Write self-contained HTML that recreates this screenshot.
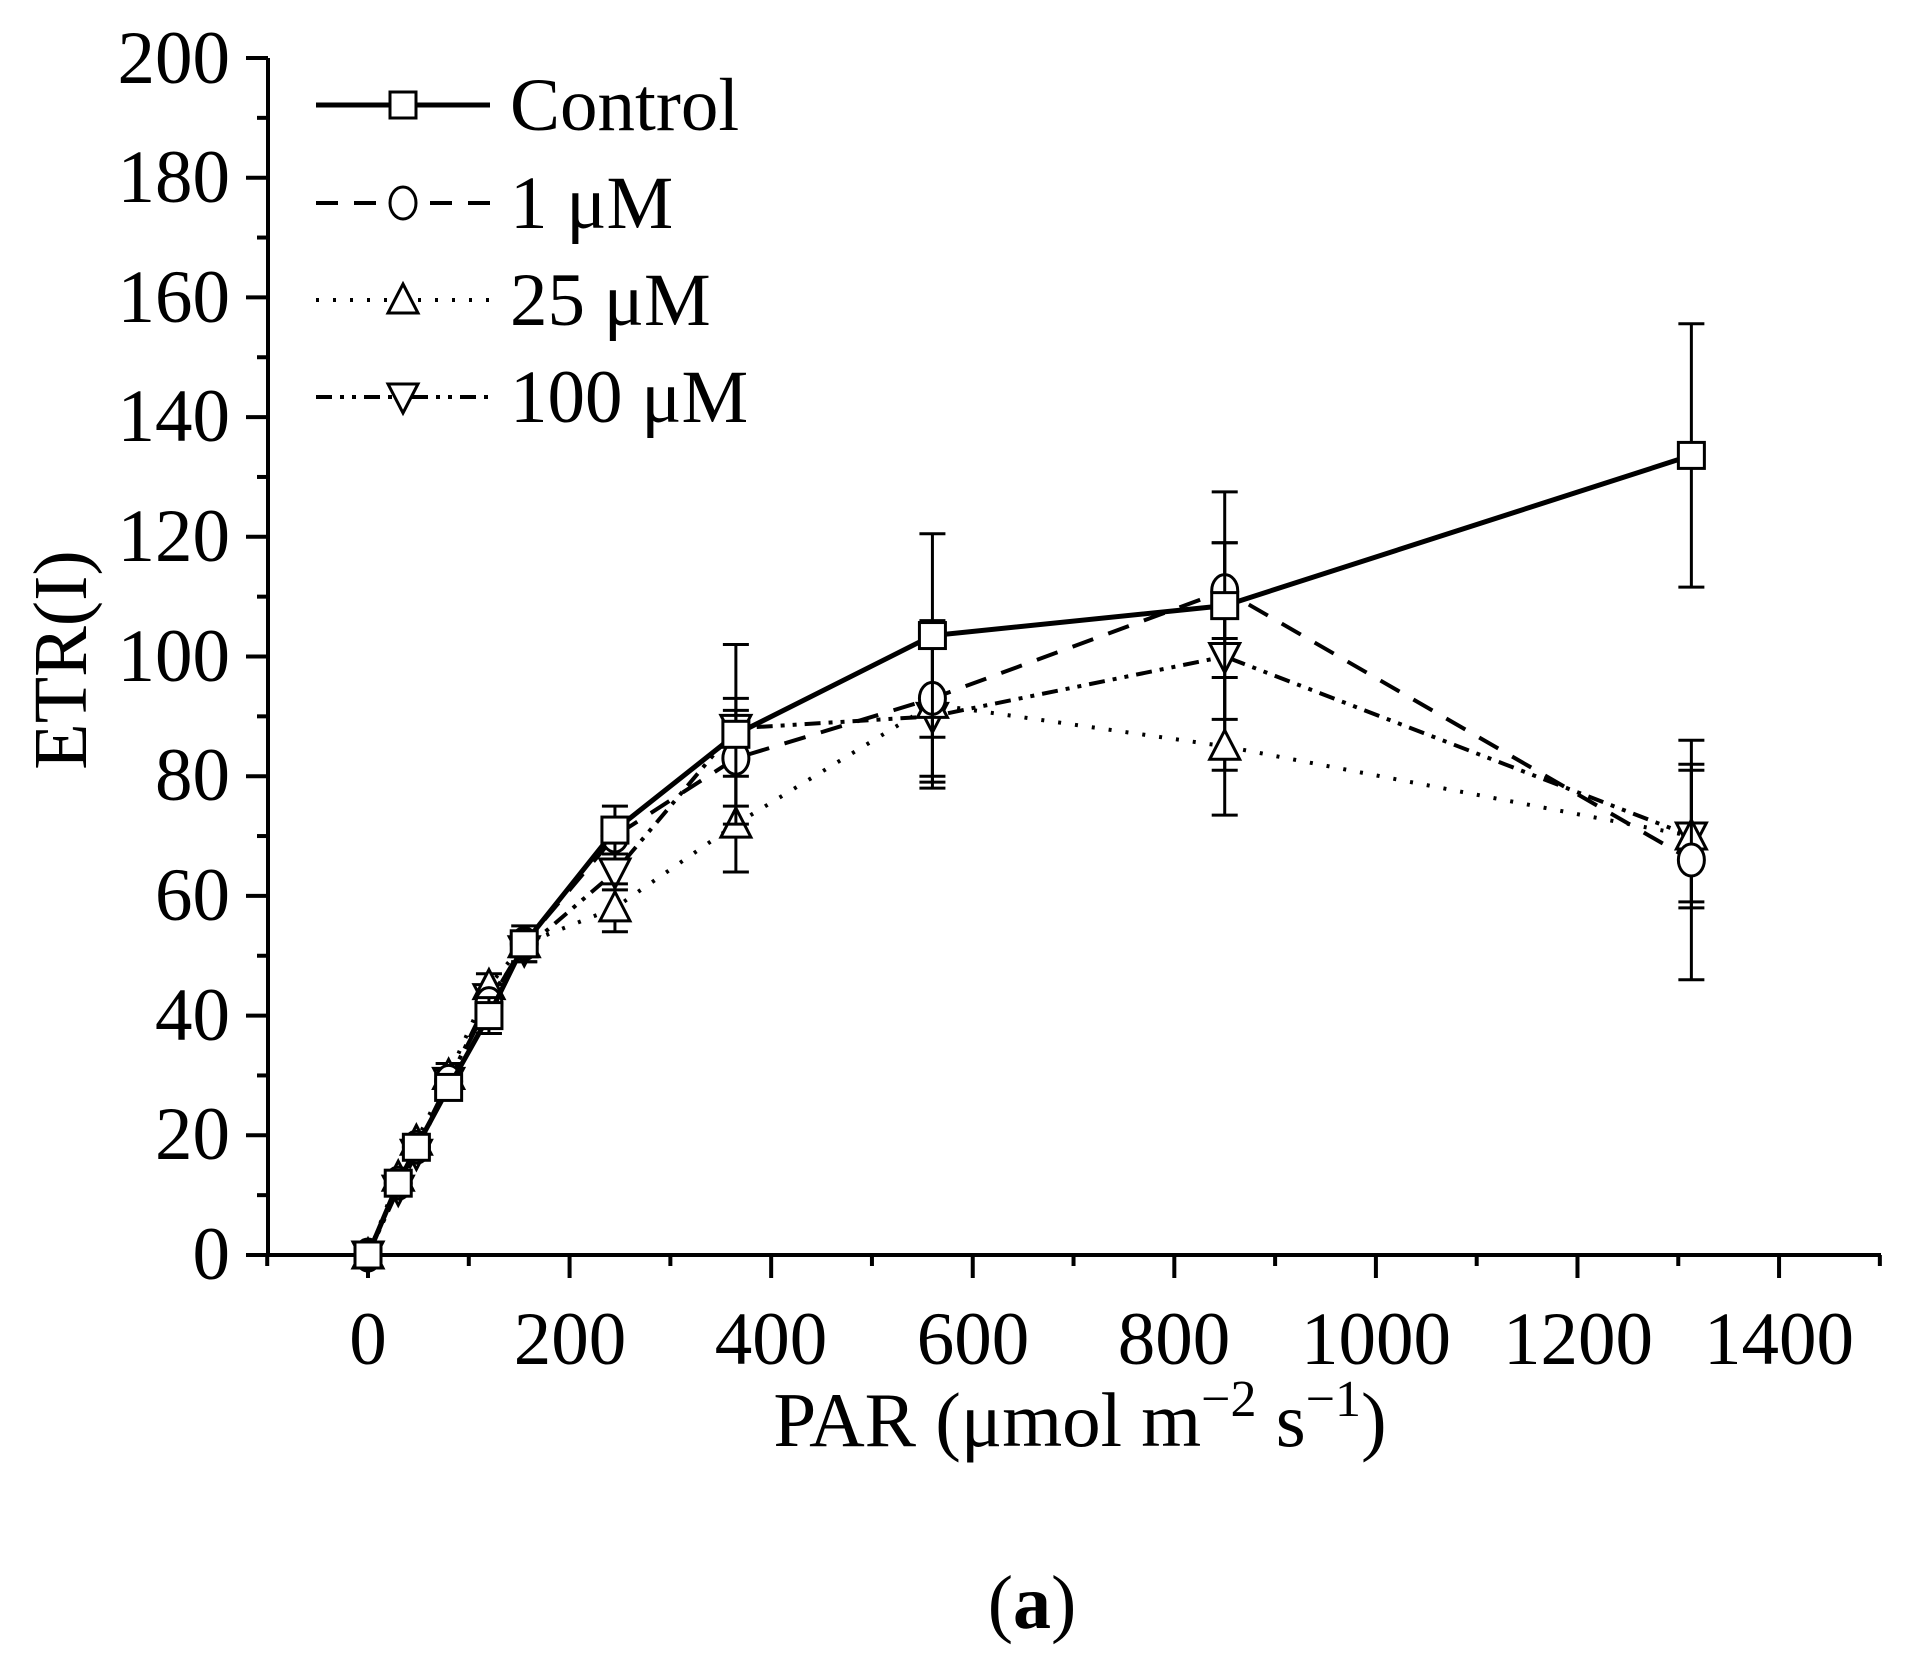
<!DOCTYPE html>
<html><head><meta charset="utf-8"><style>
html,body{margin:0;padding:0;background:#fff;}
svg{display:block;}
text{font-family:"Liberation Serif",serif;fill:#000;}
</style></head><body>
<svg id="s" width="1916" height="1665" viewBox="0 0 1916 1665" xmlns="http://www.w3.org/2000/svg">
<g font-size="75" text-anchor="end">
<text x="230" y="1279">0</text>
<text x="230" y="1159">20</text>
<text x="230" y="1040">40</text>
<text x="230" y="920">60</text>
<text x="230" y="800">80</text>
<text x="230" y="681">100</text>
<text x="230" y="561">120</text>
<text x="230" y="441">140</text>
<text x="230" y="322">160</text>
<text x="230" y="202">180</text>
<text x="230" y="83">200</text>
</g>
<g font-size="75" text-anchor="middle">
<text x="368" y="1364">0</text>
<text x="570" y="1364">200</text>
<text x="771" y="1364">400</text>
<text x="973" y="1364">600</text>
<text x="1174" y="1364">800</text>
<text x="1376" y="1364">1000</text>
<text x="1578" y="1364">1200</text>
<text x="1779" y="1364">1400</text>
</g>
<text transform="translate(86,660) rotate(-90)" font-size="76" text-anchor="middle" fill="#1a1208">ETR(I)</text>
<text x="1080" y="1446" font-size="77" text-anchor="middle">PAR (μmol m<tspan dy="-30" font-size="52">−2</tspan><tspan dy="30"> s</tspan><tspan dy="-30" font-size="52">−1</tspan><tspan dy="30">)</tspan></text>
<text x="1032" y="1628" font-size="76" text-anchor="middle">(<tspan font-weight="bold">a</tspan>)</text>
<g font-size="75">
<text x="510" y="130">Control</text>
<text x="510" y="228">1 μM</text>
<text x="510" y="325">25 μM</text>
<text x="510" y="422">100 μM</text>
</g>
<g id="g"></g>
</svg>
<script>
var g=document.getElementById('g'),NS='http://www.w3.org/2000/svg';
function el(t,a){var e=document.createElementNS(NS,t);for(var k in a)e.setAttribute(k,a[k]);g.appendChild(e);return e;}
function X(v){return 368+v*1.0079;} function Y(v){return 1255-v*5.985;}
el('line',{x1:268,y1:58,x2:268,y2:1255,stroke:'#000','stroke-width':4});
el('line',{x1:248,y1:1255,x2:1881,y2:1255,stroke:'#000','stroke-width':4});
for(var i=0;i<=20;i++){var y=Y(i*10);el('line',{x1:i%2?257:246,y1:y,x2:268,y2:y,stroke:'#000','stroke-width':4});}
for(var i=-1;i<=15;i++){var x=X(i*100);el('line',{x1:x,y1:1255,x2:x,y2:i%2?1266:1278,stroke:'#000','stroke-width':4});}
var P=[0,30,48,80,120,155,245,365,560,850,1313];
var S=[
 {d:[0,12,18,28,40,52,71,87,103.5,108.5,133.6],e:[0,1,1,2,3,3,4,15,17,19,22],dash:'',m:'sq'},
 {d:[0,12,18,29,42,52,70,83,93,111,66],e:[0,1,1,2,2,2,3,8,13,8,20],dash:'22 16',m:'ci'},
 {d:[0,13,19,30,45,52,58,72,92,85,70],e:[0,1,1,2,2,2,4,8,13,11.5,11],dash:'3 14',m:'tu'},
 {d:[0,11,17,29,43,51,64,88,90,100,70],e:[0,1,1,2,2,2,3,5,12,19,12],dash:'16 8 4 8 4 8',m:'td'}];
function mk(m,x,y){var r=13;
 if(m=='sq')el('rect',{x:x-r,y:y-r,width:2*r,height:2*r,fill:'#fff',stroke:'#000','stroke-width':3});
 else if(m=='ci')el('ellipse',{cx:x,cy:y,rx:r,ry:r+3,fill:'#fff',stroke:'#000','stroke-width':3});
 else if(m=='tu')el('polygon',{points:(x)+','+(y-r-3)+' '+(x+r+2)+','+(y+r)+' '+(x-r-2)+','+(y+r),fill:'#fff',stroke:'#000','stroke-width':3});
 else el('polygon',{points:(x)+','+(y+r+3)+' '+(x+r+2)+','+(y-r)+' '+(x-r-2)+','+(y-r),fill:'#fff',stroke:'#000','stroke-width':3});}
S.slice().reverse().forEach(function(s){
 var pts=P.map(function(p,i){return X(p)+','+Y(s.d[i]);}).join(' ');
 el('polyline',{points:pts,fill:'none',stroke:'#000','stroke-width':s.dash?4:5,'stroke-dasharray':s.dash});
 P.forEach(function(p,i){var x=X(p),e=s.e[i];if(e>0){el('line',{x1:x,y1:Y(s.d[i]+e),x2:x,y2:Y(s.d[i]-e),stroke:'#000','stroke-width':3});
 el('line',{x1:x-13,y1:Y(s.d[i]+e),x2:x+13,y2:Y(s.d[i]+e),stroke:'#000','stroke-width':3});
 el('line',{x1:x-13,y1:Y(s.d[i]-e),x2:x+13,y2:Y(s.d[i]-e),stroke:'#000','stroke-width':3});}});
 P.forEach(function(p,i){mk(s.m,X(p),Y(s.d[i]));});
});
var LY=[105,203,300,397];
S.forEach(function(s,i){el('line',{x1:316,y1:LY[i],x2:490,y2:LY[i],stroke:'#000','stroke-width':s.dash?4:5,'stroke-dasharray':s.dash});mk(s.m,403,LY[i]);});
</script>
</body></html>
